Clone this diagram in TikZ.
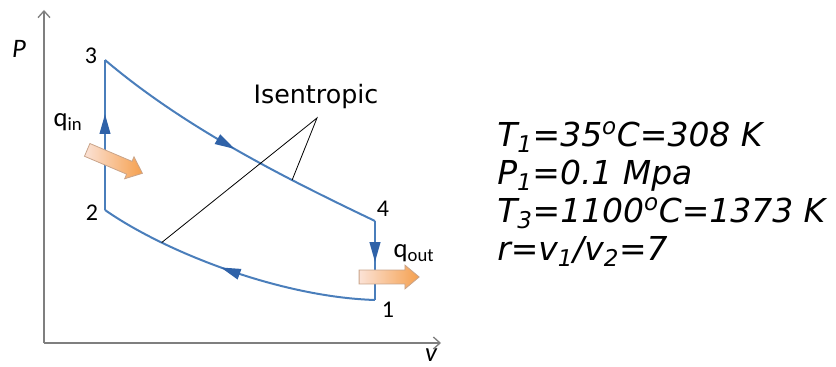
\documentclass[tikz,border=0pt]{standalone}
\usepackage{fontspec}
\setmainfont{DejaVu Sans}
\newfontfamily\calfont{Carlito}
\usetikzlibrary{arrows.meta,positioning,shapes.arrows,decorations.markings}

\definecolor{cycleblue}{HTML}{4A7EBB}
\definecolor{tipblue}{HTML}{2F62A8}
\definecolor{axisgray}{HTML}{7F7F7F}
\definecolor{heatlight}{HTML}{FBE2D6}
\definecolor{heatdark}{HTML}{F5A04E}
\definecolor{heatedge}{HTML}{C9A48A}

\tikzset{
  cycleline/.style={draw=cycleblue, line width=1.5pt},
  flowtip/.style={postaction={decorate}, decoration={markings,
      mark=at position #1 with {\arrow{Triangle[length=15pt,width=8pt,color=tipblue]}}}},
  heatarrow/.style={single arrow, draw=heatedge, line width=0.6pt,
      left color=heatlight, right color=heatdark,
      minimum height=45pt, inner sep=4.9pt,
      single arrow head extend=3.75pt, single arrow head indent=0pt,
      single arrow tip angle=80},
  statelabel/.style={font=\calfont\fontsize{18}{18}\selectfont, inner sep=0pt},
  datatext/.style={font=\itshape\fontsize{24.7}{24.7}\selectfont, anchor=base west, inner sep=0pt}
}

\begin{document}
\begin{tikzpicture}[x=0.75pt, y=-0.75pt, >=Stealth]
        \useasboundingbox (0,0) rectangle (836,367);

        %================================================
        % Axes: P up, v to the right
        %================================================
        \coordinate (origin) at (44,343);
        \coordinate (ptop) at (44,10);
        \coordinate (vend) at (441,343);

        \draw[axisgray, line width=1pt, -{Straight Barb[length=5pt,width=9pt]}] (origin) -- (ptop);
        \draw[axisgray, line width=1pt, -{Straight Barb[length=5pt,width=9pt]}] (origin) -- (vend);

        \node[font=\calfont\itshape\fontsize{20}{20}\selectfont, inner sep=0pt] (plabel) at (19,49) {P};
        \node[font=\calfont\itshape\fontsize{20}{20}\selectfont, inner sep=0pt] (vlabel) at (431,355) {v};

        %================================================
        % Otto cycle 1-2-3-4
        %================================================
        \coordinate (s1) at (375,300);
        \coordinate (s2) at (105,210);
        \coordinate (s3) at (105,60);
        \coordinate (s4) at (375,221);

        \draw[cycleline, flowtip=0.64] (s2) -- (s3);
        \draw[cycleline, flowtip=0.5] (s3) .. controls (185,128) and (285,178) .. (s4)
            coordinate[pos=0.7] (uphit);
        \draw[cycleline, flowtip=0.52] (s4) -- (s1);
        \draw[cycleline, flowtip=0.55] (s1) .. controls (280,297) and (165,252) .. (s2)
            coordinate[pos=0.74] (lowhit);

        \node[statelabel] (lbl1) at (388,310) {1};
        \node[statelabel] (lbl2) at (92,213) {2};
        \node[statelabel] (lbl3) at (91,56) {3};
        \node[statelabel] (lbl4) at (383,209) {4};

        %================================================
        % Heat in and out
        %================================================
        \node[heatarrow, rotate=-23] (qinarrow) at (111,160) {};
        \node[heatarrow] (qoutarrow) at (385,277) {};

        \node[font=\calfont\fontsize{20}{20}\selectfont, inner sep=0pt] (qin) at (68,122) {q\textsubscript{in}};
        \node[font=\calfont\fontsize{20}{20}\selectfont, inner sep=0pt] (qout) at (414,253) {q\textsubscript{out}};

        %================================================
        % Isentropic leaders
        %================================================
        \node[font=\fontsize{19}{19}\selectfont, inner sep=0pt] (isen) at (316,97) {Isentropic};
        \coordinate (apex) at (317,118);
        \draw[line width=0.6pt] (lowhit) -- (apex) -- (uphit);

        %================================================
        % Given data
        %================================================
        \node[datatext] (tone) at (497,147) {T\textsubscript{1}=35\textsuperscript{o}C=308 K};
        \node[datatext] (pone) at (497,185) {P\textsubscript{1}=0.1 Mpa};
        \node[datatext] (tthree) at (497,223) {T\textsubscript{3}=1100\textsuperscript{o}C=1373 K};
        \node[datatext] (ratio) at (497,261) {r=v\textsubscript{1}/v\textsubscript{2}=7};

\end{tikzpicture}
\end{document}
